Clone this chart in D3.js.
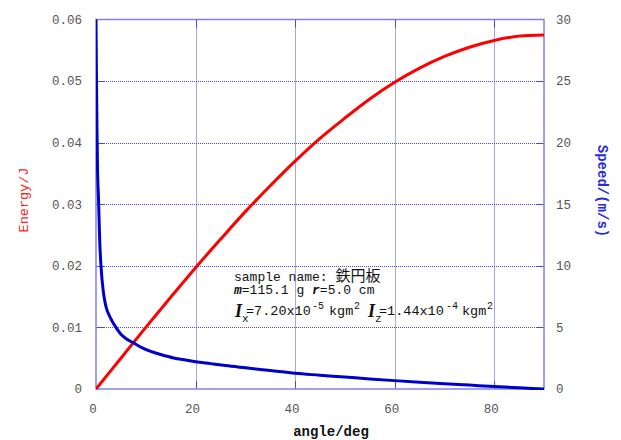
<!DOCTYPE html>
<html>
<head>
<meta charset="utf-8">
<script src="https://cdn.jsdelivr.net/npm/d3@7"></script>
<style>
  body { margin: 0; background: #fff; }
  svg { display: block; }
  text { font-family: "Liberation Mono", "DejaVu Sans Mono", "Noto Sans CJK JP", monospace; }
</style>
</head>
<body>
<svg id="chart" width="621" height="440"></svg>
<script>
/* energy / speed vs angle, two y axes */
var angleE = [0, 5, 10, 15, 20, 25, 30, 35, 40, 45, 50, 55, 60, 65, 70, 75, 80, 85, 90];
var energy = [0, 0.0050, 0.0100, 0.0149, 0.0197, 0.0243, 0.0288, 0.0330, 0.0370, 0.0407,
              0.0440, 0.0471, 0.0498, 0.0521, 0.0540, 0.0555, 0.0566, 0.0573, 0.0575];

var angleS = [0, 0.1, 0.2, 0.3, 0.5, 0.75, 1, 1.5, 2, 3, 4, 5, 6, 7.5, 9, 11, 13, 15.6, 18, 20,
              23, 26, 30, 35, 40, 45, 50, 55, 60, 65, 70, 75, 80, 85, 90];
var speed = [30, 25, 21, 18, 15.5, 12, 10, 7.8, 6.7, 5.7, 5.0, 4.45, 4.1, 3.75, 3.4, 3.05, 2.8, 2.52, 2.35, 2.22,
             2.06, 1.9, 1.72, 1.5, 1.27, 1.12, 0.97, 0.82, 0.68, 0.55, 0.43, 0.32, 0.2, 0.1, 0];

var xTicks = [0, 20, 40, 60, 80];
var eTicks = [0, 0.01, 0.02, 0.03, 0.04, 0.05, 0.06];
var eLabels = ["0", "0.01", "0.02", "0.03", "0.04", "0.05", "0.06"];
var sTicks = [0, 5, 10, 15, 20, 25, 30];

var pL = 96, pR = 544, pT = 19.5, pB = 389;
var svg = d3.select("#chart");

var x = d3.scaleLinear().domain([0, 90]).range([pL, pR]);
var yE = d3.scaleLinear().domain([0, 0.06]).range([pB, pT]);
var yS = d3.scaleLinear().domain([0, 30]).range([pB, pT]);

svg.append("defs").append("clipPath").attr("id", "plot")
    .append("rect").attr("x", pL).attr("y", pT - 1)
    .attr("width", pR - pL).attr("height", pB - pT + 2);

// dotted grid
var grid = svg.append("g").attr("stroke", "#4a4ae0").attr("stroke-width", 1)
    .attr("stroke-dasharray", "1,1");
grid.selectAll(".gx").data(xTicks.filter(function(d){ return d > 0; }))
    .enter().append("line")
    .attr("x1", function(d){ return Math.round(x(d)) + 0.5; })
    .attr("x2", function(d){ return Math.round(x(d)) + 0.5; })
    .attr("y1", pT).attr("y2", pB);
grid.selectAll(".gy").data(eTicks.slice(1, -1))
    .enter().append("line")
    .attr("y1", function(d){ return Math.round(yE(d)) + 0.5; })
    .attr("y2", function(d){ return Math.round(yE(d)) + 0.5; })
    .attr("x1", pL).attr("x2", pR);

// inward tick marks
var tk = svg.append("g").attr("stroke", "#4a4ae0").attr("stroke-width", 1);
xTicks.slice(1).forEach(function(d){
    var px = Math.round(x(d)) + 0.5;
    tk.append("line").attr("x1", px).attr("x2", px).attr("y1", pB).attr("y2", pB - 8);
    tk.append("line").attr("x1", px).attr("x2", px).attr("y1", pT).attr("y2", pT + 8);
});
eTicks.slice(1, -1).forEach(function(d){
    var py = Math.round(yE(d)) + 0.5;
    tk.append("line").attr("x1", pL).attr("x2", pL + 8).attr("y1", py).attr("y2", py);
    tk.append("line").attr("x1", pR).attr("x2", pR - 8).attr("y1", py).attr("y2", py);
});

// frame
svg.append("rect").attr("x", pL).attr("y", pT)
    .attr("width", pR - pL).attr("height", pB - pT)
    .attr("fill", "none").attr("stroke", "#8080f0").attr("stroke-width", 1.5);

// tick labels
var lab = svg.append("g").attr("fill", "#555").attr("font-size", "12.5px");
lab.selectAll(".le").data(eTicks).enter().append("text")
    .attr("x", 82).attr("y", function(d){ return yE(d); })
    .attr("dy", "0.35em").attr("text-anchor", "end")
    .text(function(d, i){ return eLabels[i]; });
lab.selectAll(".ls").data(sTicks).enter().append("text")
    .attr("x", 556).attr("y", function(d){ return yS(d); })
    .attr("dy", "0.35em").attr("text-anchor", "start")
    .text(function(d){ return d; });
lab.selectAll(".lx").data(xTicks).enter().append("text")
    .attr("x", function(d){ return x(d) - 3; }).attr("y", 413)
    .attr("text-anchor", "middle")
    .text(function(d){ return d; });

// axis titles
svg.append("text").attr("x", 331).attr("y", 436).attr("text-anchor", "middle")
    .attr("font-size", "14px").attr("font-weight", "bold").attr("fill", "#111")
    .text("angle/deg");
svg.append("text").attr("transform", "translate(28,200) rotate(-90)")
    .attr("text-anchor", "middle").attr("font-size", "13.5px").attr("fill", "#ff2020")
    .text("Energy/J");
svg.append("text").attr("transform", "translate(598,191) rotate(90)")
    .attr("text-anchor", "middle").attr("font-size", "14px").attr("fill", "#2a2ae0")
    .attr("font-weight", "bold")
    .text("Speed/(m/s)");

// curves
var plot = svg.append("g").attr("clip-path", "url(#plot)");
var lineE = d3.line().x(function(d, i){ return x(angleE[i]); })
    .y(function(d){ return yE(d); }).curve(d3.curveMonotoneX);
var lineS = d3.line().x(function(d, i){ return x(angleS[i]); })
    .y(function(d){ return yS(d); }).curve(d3.curveMonotoneX);
plot.append("path").attr("d", lineE(energy)).attr("fill", "none")
    .attr("stroke", "#ff0000").attr("stroke-width", 3);
plot.append("path").attr("d", lineS(speed)).attr("fill", "none")
    .attr("stroke", "#0000cc").attr("stroke-width", 3);

// sample note
var note = svg.append("g").attr("fill", "#111").attr("font-size", "13px");
var t1 = note.append("text").attr("x", 234).attr("y", 281);
t1.append("tspan").text("sample name: ");
t1.append("tspan").attr("font-size", "15px").attr("font-family", "Noto Sans CJK JP").text("鉄円板");

var t2 = note.append("text").attr("x", 234).attr("y", 294);
t2.append("tspan").attr("font-weight", "bold").attr("font-style", "italic").text("m");
t2.append("tspan").text("=115.1 g ");
t2.append("tspan").attr("font-weight", "bold").attr("font-style", "italic").text("r");
t2.append("tspan").text("=5.0 cm");

var t3 = note.append("text").attr("y", 315).attr("font-size", "13.5px");
function seg(txt, px, dy, size, serif) {
    var s = t3.append("tspan").attr("x", px).attr("y", 315 + dy).text(txt);
    if (size) s.attr("font-size", size);
    if (serif) s.attr("font-family", "Liberation Serif").attr("font-weight", "bold").attr("font-style", "italic");
    return s;
}
seg("I", 235, 2, "18px", true);
seg("x", 242, 7, "11px");
seg("=7.20x10", 246, 0);
seg("-5", 312, -6, "10px");
seg("kgm", 329, 0);
seg("2", 354, -6, "10px");
seg("I", 368, 2, "18px", true);
seg("z", 375, 7, "11px");
seg("=1.44x10", 379, 0);
seg("-4", 446, -6, "10px");
seg("kgm", 462, 0);
seg("2", 487, -6, "10px");
</script>
</body>
</html>
